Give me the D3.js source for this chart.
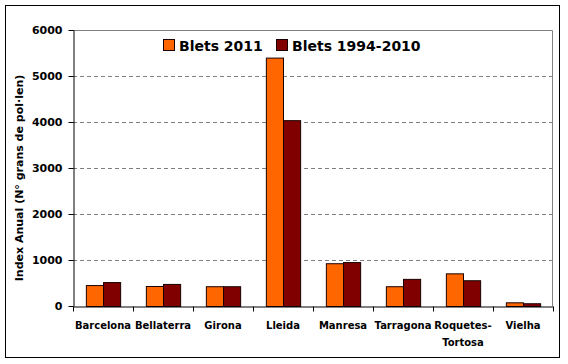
<!DOCTYPE html>
<html lang="ca">
<head>
<meta charset="UTF-8">
<title>Blets</title>
<script src="https://d3js.org/d3.v7.min.js"></script>
<style>
    body { margin: 0; background: #fff; }
    text { font-family: "DejaVu Sans", Verdana, sans-serif; font-weight: bold; fill: #000; }
</style>
</head>
<body>
<script>
    // Data
    const cities = ['Barcelona', 'Bellaterra', 'Girona', 'Lleida', 'Manresa', 'Tarragona', 'Roquetes-\nTortosa', 'Vielha'];
    const series = ['Blets 2011', 'Blets 1994-2010'];
    const blets2011 = [455, 435, 430, 5400, 930, 430, 710, 80];
    const blets9410 = [520, 480, 430, 4040, 955, 590, 560, 60];
    const yTicks = [0, 1000, 2000, 3000, 4000, 5000, 6000];
    const colors = ['#FF6600', '#800000'];

    const W = 568, H = 364;
    const plot = { left: 73, right: 553, top: 30, bottom: 306 };

    const svg = d3.select('body').append('svg')
        .attr('width', W)
        .attr('height', H);

    // outer frame
    svg.append('rect')
        .attr('x', 5.5).attr('y', 5.5)
        .attr('width', 554).attr('height', 352)
        .attr('fill', '#fff')
        .attr('stroke', '#000');

    const x = d3.scaleBand()
        .domain(cities)
        .range([plot.left, plot.right]);

    const x1 = d3.scaleBand()
        .domain(series)
        .range([0, x.bandwidth()])
        .paddingOuter(0.75)
        .paddingInner(0);

    const y = d3.scaleLinear()
        .domain([0, 6000])
        .range([plot.bottom, plot.top]);

    // plot box (top and right sides in gray)
    svg.append('path')
        .attr('d', `M${plot.left},${plot.top + 0.5}H${plot.right - 0.5}V${plot.bottom}`)
        .attr('fill', 'none')
        .attr('stroke', '#808080');

    // gridlines
    svg.append('g')
        .selectAll('line')
        .data(yTicks.filter(d => d > 0 && d < 6000))
        .join('line')
        .attr('x1', plot.left)
        .attr('x2', plot.right)
        .attr('y1', d => Math.round(y(d)) + 0.5)
        .attr('y2', d => Math.round(y(d)) + 0.5)
        .attr('stroke', '#808080')
        .attr('stroke-dasharray', '4,3');

    // bars
    const rows = cities.map((c, i) => ({ city: c, values: [blets2011[i], blets9410[i]] }));
    const groups = svg.append('g')
        .selectAll('g')
        .data(rows)
        .join('g')
        .attr('transform', d => `translate(${x(d.city)},0)`);

    groups.selectAll('rect')
        .data(d => d.values.map((v, k) => ({ key: series[k], value: v, k: k })))
        .join('rect')
        .attr('x', d => x1(d.key) + 0.5)
        .attr('width', x1.bandwidth())
        .attr('y', d => y(d.value) + 0.5)
        .attr('height', d => y(0) - y(d.value))
        .attr('fill', d => colors[d.k])
        .attr('stroke', '#1a0000')
        .attr('stroke-width', 1);

    // y axis
    const yAxis = svg.append('g')
        .attr('transform', `translate(${plot.left + 0.5},0)`)
        .call(d3.axisLeft(y).tickValues(yTicks).tickFormat(d3.format('d'))
            .tickSize(5).tickSizeOuter(0).tickPadding(6));
    yAxis.select('.domain').attr('stroke', '#000');
    yAxis.selectAll('text').style('font-size', '11px');

    // x axis
    const xAxis = svg.append('g')
        .attr('transform', `translate(0,${plot.bottom + 0.5})`)
        .call(d3.axisBottom(x).tickSize(0).tickSizeOuter(0).tickFormat(''));
    xAxis.select('.domain').attr('stroke', '#000');
    xAxis.selectAll('.sep')
        .data(d3.range(cities.length + 1))
        .join('line')
        .attr('class', 'sep')
        .attr('x1', i => Math.round(plot.left + i * x.step()) + 0.5)
        .attr('x2', i => Math.round(plot.left + i * x.step()) + 0.5)
        .attr('y1', 0)
        .attr('y2', 5)
        .attr('stroke', '#000');

    const labels = svg.append('g')
        .selectAll('text')
        .data(cities)
        .join('text')
        .attr('x', d => x(d) + x.bandwidth() / 2)
        .attr('y', 329)
        .attr('text-anchor', 'middle')
        .style('font-size', '10px');
    labels.each(function (d) {
        const parts = d.split('\n');
        d3.select(this).selectAll('tspan')
            .data(parts)
            .join('tspan')
            .attr('x', x(d) + x.bandwidth() / 2)
            .attr('dy', (p, i) => i === 0 ? 0 : 17)
            .text(p => p);
    });

    // y axis title
    svg.append('text')
        .attr('transform', `translate(23,${(plot.top + plot.bottom) / 2 + 10}) rotate(-90)`)
        .attr('text-anchor', 'middle')
        .style('font-size', '11px')
        .text('Index Anual (N° grans de pol·len)');

    // legend
    const legend = svg.append('g').attr('transform', 'translate(163,39)');
    const legendX = [0, 113];
    series.forEach((s, i) => {
        const g = legend.append('g').attr('transform', `translate(${legendX[i]},0)`);
        g.append('rect')
            .attr('x', 0.5).attr('y', 0.5)
            .attr('width', 11).attr('height', 11)
            .attr('fill', colors[i])
            .attr('stroke', '#1a0000');
        g.append('text')
            .attr('x', 16)
            .attr('y', 12)
            .style('font-size', '14px')
            .text(s);
    });
</script>
</body>
</html>
